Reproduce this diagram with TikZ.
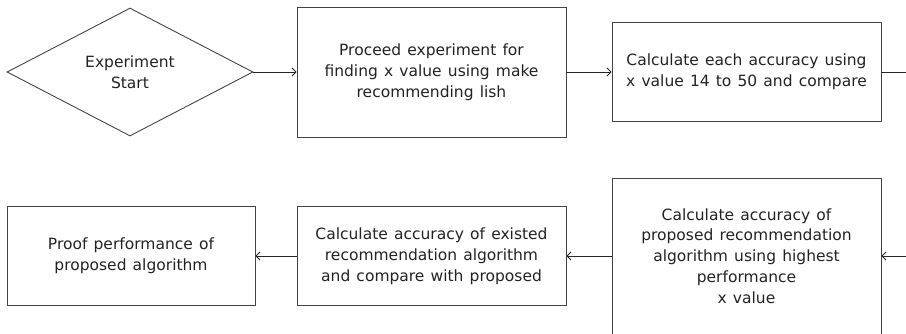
\documentclass[tikz,border=0pt]{standalone}
\usepackage{fontspec}
\setmainfont{DejaVu Sans}[WordSpace={1.25}]
\usetikzlibrary{shapes.geometric,arrows.meta}
\definecolor{edge}{HTML}{444444}
\definecolor{ink}{HTML}{222222}
\tikzset{
  boxnode/.style={draw=edge, line width=0.9pt, rectangle, align=center, text=ink,
    font=\fontsize{15.5}{20.8}\selectfont, inner sep=0pt},
  decision/.style={draw=edge, line width=0.9pt, diamond, shape aspect=2, align=center, text=ink,
    font=\fontsize{15.5}{20.8}\selectfont, inner sep=0pt},
  conn/.style={draw=black!85, line width=0.9pt, -{Straight Barb[length=4pt,width=8pt]}},
}
\begin{document}
\begin{tikzpicture}[x=1pt,y=-1pt]
\useasboundingbox (0,0) rectangle (906,333);
\clip (0,0) rectangle (906,333);
\node[decision, minimum width=246pt, minimum height=128pt] (d) at (130,72) {Experiment\\Start};
\node[boxnode, minimum width=269pt, minimum height=130pt] (b2) at (431.5,72) {Proceed experiment for\\finding x value using make\\recommending lish};
\node[boxnode, minimum width=269pt, minimum height=99pt] (b3) at (746.5,72) {Calculate each accuracy using\\x value 14 to 50 and compare};
\node[boxnode, minimum width=269pt, minimum height=156pt] (b4) at (746.5,256) {Calculate accuracy of\\proposed recommendation\\algorithm using highest\\performance\\x value};
\node[boxnode, minimum width=269pt, minimum height=99pt] (b5) at (431.5,256) {Calculate accuracy of existed\\recommendation algorithm\\and compare with proposed};
\node[boxnode, minimum width=248pt, minimum height=99pt] (b6) at (131,256) {Proof performance of\\proposed algorithm};
\coordinate (r1) at (930,72);
\coordinate (r2) at (930,256);
\draw[conn] (d.east) -- (b2.west);
\draw[conn] (b2.east) -- (b3.west);
\draw[conn] (b3.east) -- (r1) -- (r2) -- (b4.east);
\draw[conn] (b4.west) -- (b5.east);
\draw[conn] (b5.west) -- (b6.east);
\end{tikzpicture}
\end{document}
